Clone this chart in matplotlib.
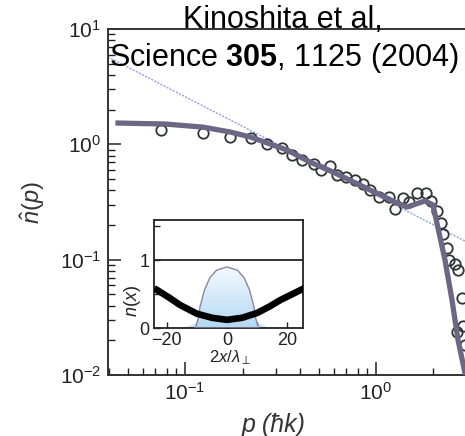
"""Momentum distribution of a 1D Bose gas in a log-log plot, with the in-trap density as inset."""

import numpy as np
import matplotlib
matplotlib.use('Agg')
import matplotlib.pyplot as plt
from matplotlib.colors import LinearSegmentedColormap
from matplotlib.ticker import NullFormatter

plt.rcParams['font.family'] = ['Liberation Sans', 'DejaVu Sans']
plt.rcParams['mathtext.fontset'] = 'custom'
plt.rcParams['mathtext.rm'] = 'Liberation Sans'
plt.rcParams['mathtext.it'] = 'Liberation Sans:italic'
plt.rcParams['mathtext.bf'] = 'Liberation Sans:bold'

# Measured momentum distribution (open circles)
data_p = [0.0748, 0.124, 0.172, 0.222, 0.269, 0.322, 0.363, 0.410, 0.473, 0.515,
          0.574, 0.625, 0.697, 0.776, 0.855, 0.931, 1.037, 1.170, 1.257, 1.384,
          1.488, 1.640, 1.827, 1.941, 2.086, 2.188, 2.243, 2.353, 2.411, 2.592,
          2.688, 2.819, 2.852, 2.655, 2.92]
data_n = [1.33, 1.25, 1.16, 1.13, 1.01, 0.929, 0.807, 0.731, 0.675, 0.598,
          0.648, 0.542, 0.520, 0.490, 0.453, 0.402, 0.349, 0.349, 0.275, 0.342,
          0.316, 0.378, 0.378, 0.322, 0.264, 0.207, 0.166, 0.126, 0.0991, 0.0914,
          0.0811, 0.0464, 0.0265, 0.0235, 0.0181]

# Theory curve
theory_p = [0.0446, 0.0786, 0.124, 0.172, 0.219, 0.342, 0.451, 0.596, 0.931, 1.288,
            1.452, 1.806, 1.987, 2.163, 2.297, 2.50, 2.688, 2.851, 2.96]
theory_n = [1.53, 1.50, 1.41, 1.28, 1.16, 0.893, 0.702, 0.575, 0.402, 0.310,
            0.286, 0.323, 0.298, 0.157, 0.0993, 0.0447, 0.0201, 0.0127, 0.0094]

# Power-law guide
power_p = [0.0395, 2.924]
power_n = [5.72, 0.145]

# Inset: lattice occupation and tube density profile
cloud_x = [-23.3, -19, -15.7, -10, -5, 0, 5, 10, 14.3, 17.7, 25]
cloud_n = [0.56, 0.44, 0.34, 0.21, 0.15, 0.12, 0.15, 0.22, 0.32, 0.41, 0.57]
bell_x = [-10.5, -9.5, -9, -7.5, -5.7, -3.5, 0, 3.5, 5.7, 7.5, 9, 9.5, 10.5]
bell_n = [0, 0.15, 0.31, 0.56, 0.74, 0.85, 0.9, 0.85, 0.74, 0.56, 0.31, 0.15, 0]
base_x = [-14, -12, -10, -8, 8, 10, 12, 14]
base_n = [0, 0.04, 0.08, 0.1, 0.1, 0.08, 0.04, 0]

W, H = 465, 436
fig = plt.figure(figsize=(W / 100, H / 100), dpi=100)
ax = fig.add_axes([108 / W, 1 - 375 / H, 357 / W, 346 / H])
ax.set_xscale('log')
ax.set_yscale('log')

ax.plot(power_p, power_n, color='#8da2dc', lw=1.0, ls=(0, (1.5, 1)), zorder=2)
ax.plot(data_p, data_n, 'o', mfc='none', mec='#2a3535', mew=1.3, ms=7.5, zorder=3)
ax.plot(theory_p, theory_n, color='#6e6685', lw=3.8, zorder=4)

ax.set_xlim(0.0395, 2.924)
ax.set_ylim(0.01, 10)
ax.xaxis.set_minor_formatter(NullFormatter())
ax.yaxis.set_minor_formatter(NullFormatter())
ax.tick_params(which='both', direction='in', top=False, right=False,
               colors='#222222', labelsize=15, pad=5)
ax.tick_params(which='major', length=9.5, width=1.1)
ax.tick_params(which='minor', length=5, width=1.0)
ax.spines['right'].set_visible(False)
for side in ('left', 'bottom', 'top'):
    ax.spines[side].set_linewidth(1.4)
    ax.spines[side].set_color('#333333')

fig.text(33 / W, 1 - 203 / H, r'$\hat{n}(p)$', rotation=90, ha='center', va='center',
         fontsize=17, color='#333333')
fig.text(274 / W, 1 - 425 / H, 'p (ħk)', style='italic', ha='center', va='center',
         fontsize=18, color='#333333')

fig.text(283 / W, 1 - 28 / H, 'Kinoshita et al,', ha='center', va='baseline', fontsize=22)
fig.text(284 / W, 1 - 66 / H, r'Science $\mathbf{305}$, 1125 (2004)', ha='center',
         va='baseline', fontsize=22)

# Inset
ins = fig.add_axes([154 / W, 1 - 328 / H, 149 / W, 108 / H])
ins.set_facecolor('white')
ins.fill(base_x, base_n, color='#c9e4f7', lw=0, zorder=1.5)
grad = np.linspace(0, 1, 256).reshape(-1, 1)
cmap = LinearSegmentedColormap.from_list('tube', ['#b3d8f3', '#f5fbff'])
im = ins.imshow(grad, extent=[-11, 11, 0, 0.92], origin='lower', cmap=cmap,
                aspect='auto', zorder=2)
bell = ins.fill(bell_x, bell_n, facecolor='none', edgecolor='#8c84a6', lw=1.0, zorder=3)[0]
im.set_clip_path(bell)
ins.plot(cloud_x, cloud_n, color='black', lw=4.8, zorder=4)
ins.axhline(1, color='#222222', lw=1.3, zorder=5)

ins.set_xlim(-24.3, 25.3)
ins.set_ylim(0, 1.59)
ins.set_xticks([-20, 0, 20])
ins.set_xticklabels(['−20', '0', '20'])
ins.set_xticks([-10, 10], minor=True)
ins.set_yticks([0, 0.5, 1, 1.5])
ins.set_yticklabels(['0', '', '1', ''])
ins.tick_params(which='both', direction='in', length=4, width=1.0,
                labelsize=13, pad=3, colors='#222222')
for side in ins.spines.values():
    side.set_linewidth(1.3)
    side.set_color('#222222')

ins.text(-0.141, 0.25, r'$n(x)$', transform=ins.transAxes, rotation=90,
         ha='center', va='center', fontsize=13, color='#222222')
fig.text(230 / W, 1 - 358 / H, r'$2x/\lambda_\perp$', ha='center', va='center',
         fontsize=12, color='#222222')

fig.savefig('out.png', dpi=100)
